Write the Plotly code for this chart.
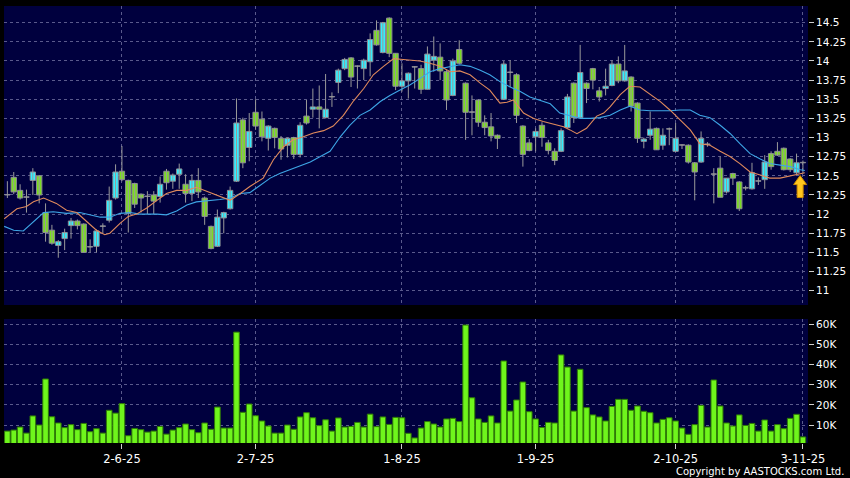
import plotly.graph_objects as go

# ---------------- data ----------------
date_labels = ["2-6-25", "2-7-25", "1-8-25", "1-9-25", "2-10-25", "3-11-25"]
date_idx = [18, 39, 62, 83, 105, 125]

opens = [12.25, 12.48, 12.31, 12.22, 12.44, 12.50, 12.02, 11.79, 11.59, 11.68,
         11.85, 11.91, 11.87, 11.57, 11.58, 11.84, 11.92, 12.21, 12.56, 12.44,
         12.40, 12.26, 12.23, 12.25, 12.23, 12.56, 12.43, 12.52, 12.39, 12.27,
         12.44, 12.21, 11.84, 11.58, 11.95, 12.07, 12.43, 13.23, 12.87, 13.33,
         13.24, 12.99, 13.12, 12.99, 12.90, 13.00, 12.78, 13.28, 13.37, 13.40,
         13.26, 13.53, 13.72, 13.90, 14.04, 13.93, 13.90, 13.99, 14.40, 14.11,
         14.56, 14.10, 13.67, 13.74, 13.92, 13.90, 13.63, 14.01, 14.05, 13.86,
         13.55, 14.15, 13.71, 13.33, 13.49, 13.20, 13.14, 13.03, 13.50, 13.85,
         13.82, 13.15, 12.93, 13.01, 13.16, 12.93, 12.82, 12.82, 13.13, 13.71,
         13.26, 13.71, 13.90, 13.61, 13.64, 13.68, 13.96, 13.74, 13.79, 13.45,
         12.95, 13.03, 13.12, 12.90, 13.11, 12.82, 12.90, 12.90, 12.67, 12.68,
         12.91, 12.52, 12.60, 12.29, 12.53, 12.42, 12.34, 12.33, 12.43, 12.45,
         12.79, 12.82, 12.86, 12.72, 12.54, 12.67]
highs = [12.43, 12.55, 12.39, 12.32, 12.60, 12.51, 12.14, 11.86, 11.66, 11.81,
         11.95, 11.93, 11.88, 11.67, 11.80, 11.88, 12.36, 12.65, 12.89, 12.45,
         12.41, 12.27, 12.30, 12.30, 12.49, 12.59, 12.53, 12.66, 12.52, 12.52,
         12.60, 12.23, 11.85, 12.06, 12.03, 12.36, 13.51, 13.26, 13.32, 13.50,
         13.34, 13.16, 13.13, 13.02, 13.00, 13.01, 13.20, 13.49, 13.64, 13.68,
         13.83, 13.59, 13.90, 14.04, 14.05, 13.94, 14.03, 14.36, 14.53, 14.51,
         14.57, 14.10, 13.97, 13.85, 13.93, 13.95, 14.19, 14.32, 14.23, 13.88,
         14.03, 14.27, 13.72, 13.55, 13.50, 13.29, 13.32, 13.04, 14.00, 14.01,
         13.84, 13.16, 12.98, 13.12, 13.20, 12.97, 12.86, 13.12, 13.57, 13.72,
         14.21, 13.72, 13.91, 13.66, 13.90, 14.01, 14.06, 14.21, 13.80, 13.46,
         13.00, 13.34, 13.13, 13.12, 13.13, 13.19, 12.91, 12.91, 12.68, 13.08,
         12.94, 12.60, 12.75, 12.47, 12.54, 12.43, 12.37, 12.67, 12.48, 12.77,
         12.82, 12.94, 12.87, 12.73, 12.79, 12.70]
lows = [12.21, 12.26, 12.19, 12.02, 12.25, 12.14, 11.64, 11.60, 11.43, 11.53,
        11.68, 11.80, 11.50, 11.50, 11.50, 11.75, 11.89, 12.19, 12.43, 11.76,
        12.08, 12.02, 12.00, 12.00, 12.15, 12.32, 12.33, 12.33, 12.15, 12.17,
        12.21, 11.86, 11.54, 11.57, 11.75, 12.06, 12.42, 12.60, 12.69, 13.10,
        12.95, 12.83, 12.86, 12.71, 12.74, 12.72, 12.74, 13.17, 13.26, 13.12,
        13.25, 13.40, 13.58, 13.88, 13.66, 13.64, 13.75, 13.80, 14.20, 14.10,
        14.05, 13.62, 13.60, 13.51, 13.64, 13.57, 13.63, 13.86, 13.75, 13.36,
        13.54, 13.96, 12.97, 13.03, 13.14, 13.03, 12.95, 12.85, 13.49, 13.66,
        13.19, 12.62, 12.82, 12.82, 12.88, 12.78, 12.64, 12.81, 13.12, 13.19,
        13.25, 13.45, 13.63, 13.47, 13.55, 13.67, 13.71, 13.73, 13.34, 12.93,
        12.86, 12.97, 12.84, 12.84, 12.90, 12.81, 12.85, 12.66, 12.18, 12.67,
        12.88, 12.14, 12.22, 12.27, 12.38, 12.04, 12.31, 12.32, 12.38, 12.33,
        12.58, 12.76, 12.57, 12.55, 12.52, 12.53]
closes = [12.25, 12.29, 12.21, 12.22, 12.55, 12.25, 11.76, 11.62, 11.64, 11.76,
          11.91, 11.85, 11.50, 11.57, 11.78, 11.84, 12.18, 12.55, 12.45, 12.01,
          12.13, 12.21, 12.23, 12.17, 12.39, 12.41, 12.51, 12.59, 12.27, 12.44,
          12.29, 11.97, 11.55, 11.96, 12.02, 12.31, 13.19, 12.67, 13.08, 13.15,
          13.01, 13.15, 13.00, 12.85, 12.99, 12.78, 13.16, 13.19, 13.40, 13.37,
          13.37, 13.53, 13.88, 14.02, 13.79, 13.93, 14.01, 14.28, 14.21, 14.50,
          14.10, 13.67, 13.74, 13.84, 13.92, 13.63, 14.09, 14.06, 13.87, 13.49,
          14.00, 13.97, 13.33, 13.33, 13.20, 13.13, 13.02, 12.99, 13.96, 13.85,
          13.29, 12.78, 12.83, 13.08, 13.00, 12.83, 12.70, 13.09, 13.53, 13.26,
          13.85, 13.64, 13.75, 13.53, 13.67, 13.96, 13.74, 13.87, 13.41, 12.99,
          12.98, 13.11, 12.84, 13.03, 13.11, 12.99, 12.90, 12.68, 12.55, 12.99,
          12.91, 12.52, 12.22, 12.47, 12.47, 12.07, 12.34, 12.54, 12.43, 12.68,
          12.62, 12.77, 12.58, 12.58, 12.67, 12.67]
volumes = [7000, 7500, 9000, 6000, 14500, 10000, 32800, 14100, 11000, 8700,
           10200, 7700, 10800, 6700, 8200, 6000, 17300, 15900, 20600, 4700,
           8300, 7700, 6500, 7000, 9300, 5500, 7500, 8700, 10500, 7700,
           6200, 11000, 7900, 18900, 8500, 8500, 56000, 16300, 20400, 14600,
           12000, 9500, 6000, 6000, 10000, 7900, 14000, 16100, 13600, 9700,
           12600, 7000, 13500, 9000, 9300, 11300, 9000, 15400, 9200, 14000,
           10300, 13800, 13600, 5900, 3600, 8500,
           11700, 10500, 9000, 13000, 13300, 11700, 59500, 23500, 13000, 11300,
           14500, 11000, 41700, 16900, 22400, 31300, 16600, 13000, 8800, 11300,
           11000, 44700, 38700, 16900, 37600, 18600, 15000, 14000, 12000, 19200,
           22700, 22700, 17300, 19400, 16800, 16100, 11000, 12800, 13600, 12000,
           8500, 5400, 10200, 19700, 9000, 32300, 19400, 11000, 9500, 15000,
           9800, 10800, 7000, 12500, 7000, 10200, 8200, 13300, 15300, 4100]

# moving averages (bar position, value)
ma10_x = [-0.5, 1.5, 3.0, 4.1, 5.7, 6.7, 7.7, 9.3, 10.9, 12.5, 14.0, 15.3, 16.1, 17.7,
          19.0, 20.3, 21.9, 23.5, 25.0, 26.6, 28.2, 29.7, 31.3, 33.4, 35.0, 36.6,
          38.1, 40.2, 41.8, 43.4, 44.9, 46.5, 48.1, 49.7, 51.2, 52.8, 54.4, 56.0,
          57.5, 59.1, 60.7, 62.2, 63.3, 64.8, 66.4, 68.0, 69.6, 71.1, 72.7, 74.3,
          75.8, 77.4, 78.5, 79.5, 81.1, 82.7, 84.2, 85.8, 87.4, 88.4, 89.5, 91.0,
          92.6, 93.7, 94.7, 96.3, 97.8, 99.4, 101.0, 102.6, 104.1, 105.7, 107.3,
          108.8, 110.4, 112.0, 113.6, 115.1, 116.7, 118.3, 119.8, 121.4, 123.0,
          124.6, 125.3]
ma10_y = [11.94, 12.07, 12.10, 12.16, 12.21, 12.18, 12.14, 12.05, 12.02, 11.90, 11.79,
          11.73, 11.75, 11.88, 11.97, 12.00, 12.08, 12.18, 12.27, 12.31, 12.31, 12.35,
          12.30, 12.24, 12.18, 12.27, 12.36, 12.47, 12.71, 12.88, 12.97, 13.01, 13.06,
          13.09, 13.15, 13.29, 13.48, 13.64, 13.82, 13.93, 14.03, 14.02, 14.01, 14.00,
          13.97, 13.93, 13.86, 13.87, 13.82, 13.71, 13.62, 13.45, 13.46, 13.49, 13.32,
          13.25, 13.21, 13.17, 13.14, 13.10, 13.05, 13.12, 13.28, 13.32, 13.40, 13.56,
          13.67, 13.66, 13.56, 13.47, 13.36, 13.23, 13.10, 12.92, 12.90, 12.82, 12.75,
          12.66, 12.55, 12.51, 12.47, 12.47, 12.50, 12.53, 12.54]
ma20_x = [-0.5, 1.0, 2.5, 4.1, 5.7, 7.2, 9.3, 11.4, 13.0, 14.6, 16.1, 17.7, 19.3, 20.8,
          23.5, 25.0, 26.6, 28.2, 29.7, 31.3, 33.4, 35.0, 36.6, 38.1, 39.7, 41.3,
          42.8, 44.4, 46.0, 47.6, 49.1, 50.7, 52.3, 53.8, 55.4, 57.0, 58.6, 60.1,
          61.7, 63.3, 64.8, 66.4, 68.0, 69.6, 71.1, 72.7, 74.3, 75.8, 77.4, 79.0,
          80.6, 82.1, 83.7, 85.3, 86.8, 88.4, 90.0, 91.6, 93.1, 94.7, 96.3, 97.8,
          99.4, 101.0, 102.6, 104.1, 105.7, 107.3, 108.8, 110.4, 112.0, 113.6,
          115.1, 116.7, 118.3, 119.8, 121.4, 123.0, 124.6, 125.3]
ma20_y = [11.84, 11.79, 11.78, 11.90, 12.02, 12.03, 12.01, 12.02, 11.99, 11.96, 11.96,
          12.01, 12.02, 12.00, 12.00, 11.99, 12.04, 12.12, 12.16, 12.17, 12.19, 12.21,
          12.27, 12.28, 12.38, 12.47, 12.53, 12.58, 12.62, 12.68, 12.75, 12.82, 13.01,
          13.16, 13.29, 13.36, 13.47, 13.55, 13.62, 13.69, 13.77, 13.86, 13.90, 13.93,
          13.95, 13.93, 13.88, 13.82, 13.73, 13.66, 13.60, 13.53, 13.49, 13.44, 13.32,
          13.28, 13.25, 13.25, 13.26, 13.29, 13.36, 13.41, 13.36, 13.35, 13.35, 13.35,
          13.36, 13.36, 13.29, 13.26, 13.16, 13.05, 12.92, 12.79, 12.72, 12.66, 12.64,
          12.62, 12.58, 12.57]

price_ticks = [14.5, 14.25, 14, 13.75, 13.5, 13.25, 13, 12.75, 12.5, 12.25, 12, 11.75, 11.5, 11.25, 11]
price_labels = ["14.5", "14.25", "14", "13.75", "13.5", "13.25", "13", "12.75", "12.5",
                "12.25", "12", "11.75", "11.5", "11.25", "11"]
vol_ticks = [10000, 20000, 30000, 40000, 50000, 60000]
vol_labels = ["10K", "20K", "30K", "40K", "50K", "60K"]

signal_bar = 124.56
signal_price = 12.36

# ---------------- styles ----------------
UP_C, DOWN_C, FLAT_C = "#33EEFF", "#7BDD22", "#9a9aa2"
EDGE_C = "#8c8c94"
grid_c = "#5a5a8c"
font_fam = "DejaVu Sans"

# ---------------- figure ----------------
idx = list(range(len(opens)))
body_base = [min(o, c) for o, c in zip(opens, closes)]
body_len = [max(abs(c - o), 0.006) for o, c in zip(opens, closes)]
body_col = [UP_C if c > o else (DOWN_C if c < o else FLAT_C) for o, c in zip(opens, closes)]

wick_x, wick_y = [], []
for i, h, l in zip(idx, highs, lows):
    wick_x += [i, i, None]
    wick_y += [l, h, None]

fig = go.Figure()
fig.add_trace(go.Scatter(x=wick_x, y=wick_y, mode="lines", line=dict(color="#9a9a9a", width=1),
                         xaxis="x", yaxis="y", showlegend=False, hoverinfo="skip"))
fig.add_trace(go.Bar(x=idx, y=body_len, base=body_base, width=0.84, xaxis="x", yaxis="y",
                     marker=dict(color=body_col, line=dict(color=EDGE_C, width=1)),
                     showlegend=False, hoverinfo="skip"))
fig.add_trace(go.Scatter(x=ma20_x, y=ma20_y, mode="lines",
                         line=dict(color="#3EA6E6", width=1.1), xaxis="x", yaxis="y",
                         showlegend=False, hoverinfo="skip"))
fig.add_trace(go.Scatter(x=ma10_x, y=ma10_y, mode="lines",
                         line=dict(color="#E08A5C", width=1.1), xaxis="x", yaxis="y",
                         showlegend=False, hoverinfo="skip"))
fig.add_trace(go.Bar(x=idx, y=volumes, width=0.88, xaxis="x2", yaxis="y2",
                     marker=dict(color="#6FF51C", line=dict(color="#2F7A06", width=1)),
                     showlegend=False, hoverinfo="skip"))

xcommon = dict(range=[-0.53, 125.8], tickvals=date_idx, showgrid=True, gridcolor=grid_c,
               griddash="3px,3px", gridwidth=1, zeroline=False, showline=False, fixedrange=True)
ycommon = dict(side="right", showgrid=True, gridcolor=grid_c, griddash="3px,3px", gridwidth=1,
               zeroline=False, showline=False, ticks="outside", ticklen=5, tickcolor="#cfcfcf",
               tickfont=dict(color="white", size=10.5, family=font_fam), fixedrange=True)

fig.update_layout(
    width=850, height=478,
    paper_bgcolor="black", plot_bgcolor="#00003E",
    margin=dict(l=4, r=42, t=6, b=35),
    barmode="overlay",
    showlegend=False,
    xaxis=dict(**xcommon, anchor="y", showticklabels=False, ticks=""),
    xaxis2=dict(**xcommon, anchor="y2", ticktext=date_labels, ticks="outside", ticklen=5,
                tickcolor="#cfcfcf", tickfont=dict(color="white", size=11.5, family=font_fam)),
    yaxis=dict(**ycommon, domain=[0.3158, 1], range=[10.813, 14.718], anchor="x",
               tickvals=price_ticks, ticktext=price_labels),
    yaxis2=dict(**ycommon, domain=[0, 0.2838], range=[1100, 62500], anchor="x2",
                tickvals=vol_ticks, ticktext=vol_labels),
    annotations=[dict(text="Copyright by AASTOCKS.com Ltd.", xref="paper", yref="paper",
                      x=1, y=0, xanchor="right", yanchor="top", xshift=38, yshift=-21,
                      showarrow=False, font=dict(color="white", size=10, family=font_fam))],
    shapes=[dict(type="path", xref="x", yref="y", xsizemode="pixel", ysizemode="pixel",
                 xanchor=signal_bar, yanchor=signal_price,
                 path="M 0 11 L 6.5 2 L 3 2 L 3 -11 L -3 -11 L -3 2 L -6.5 2 Z",
                 fillcolor="#FFC61E", line=dict(color="#D08C00", width=1), layer="above")],
)

fig.write_html("out.html", config={"displayModeBar": False},
               post_script="document.body.style.margin='0';document.body.style.background='black';")
